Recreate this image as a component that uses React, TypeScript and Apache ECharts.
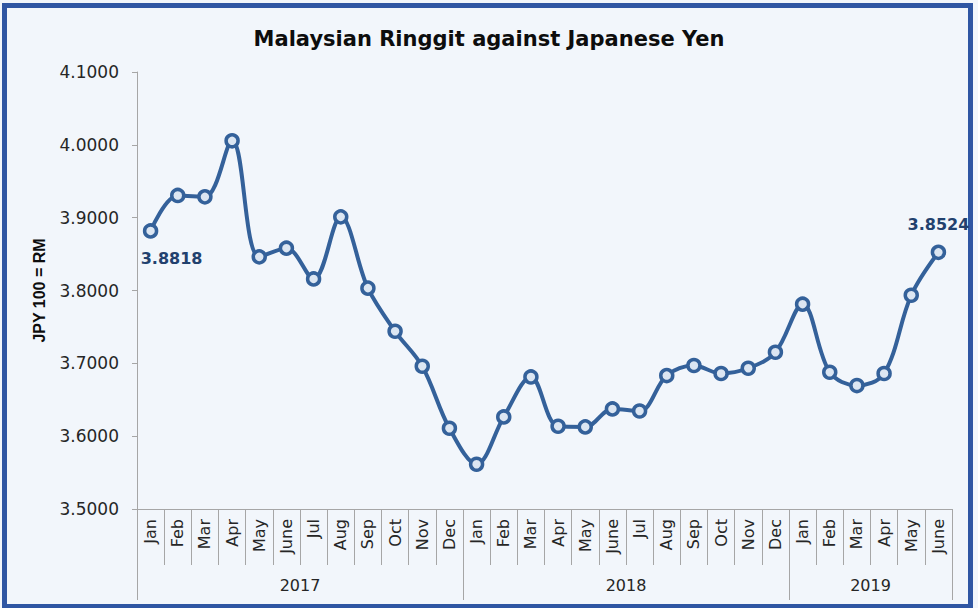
import React, { useEffect, useRef } from "react";
import * as echarts from "echarts";

const months = [
  "Jan", "Feb", "Mar", "Apr", "May", "June", "Jul", "Aug", "Sep", "Oct", "Nov", "Dec",
  "Jan", "Feb", "Mar", "Apr", "May", "June", "Jul", "Aug", "Sep", "Oct", "Nov", "Dec",
  "Jan", "Feb", "Mar", "Apr", "May", "June",
];
const rates = [
  3.8818, 3.9305, 3.9286, 4.0055, 3.8462, 3.8581, 3.8159, 3.9011, 3.8032, 3.744, 3.696, 3.6109,
  3.5614, 3.6264, 3.6813, 3.6136, 3.6127, 3.6374, 3.6346, 3.6832, 3.697, 3.686, 3.6933, 3.7152,
  3.7812, 3.6878, 3.6695, 3.686, 3.7935, 3.8524,
];
const years = ["2017", "2018", "2019"];
const yearBoundaries = [0, 12, 24, 30];
const yearCenters = [6, 18, 27];
const yTicks = { min: 3.5, max: 4.1, interval: 0.1 };

const TITLE = "Malaysian Ringgit against Japanese Yen";
const LINE = "#34619A";
const FONT = "'DejaVu Sans', sans-serif";

export default function App() {
  const ref = useRef<HTMLDivElement>(null);
  useEffect(() => {
    if (!ref.current) return;
    const chart = echarts.init(ref.current, undefined, { renderer: "svg" });
    const last = rates.length - 1;
    chart.setOption({
      animation: false,
      backgroundColor: "#F2F6FB",
      textStyle: { fontFamily: FONT },
      graphic: [
        {
          type: "rect",
          z: -10,
          shape: { x: 4.5, y: 5.5, width: 966, height: 601 },
          style: { fill: "#F2F6FB", stroke: "#2F56A3", lineWidth: 5 },
        },
      ],
      title: {
        text: TITLE,
        left: "center",
        top: 23,
        textStyle: {
          fontFamily: FONT,
          fontWeight: "bold",
          fontSize: 21,
          color: "#0d0d0d",
        },
      },
      grid: { left: 137, right: 26, top: 72, bottom: 99, containLabel: false },
      xAxis: [
        {
          type: "category",
          data: months,
          boundaryGap: true,
          axisLine: { lineStyle: { color: "#a6a6a6", width: 1 } },
          axisTick: { show: true, interval: 0, alignWithLabel: false, length: 56, lineStyle: { color: "#a6a6a6" } },
          axisLabel: { interval: 0, rotate: 90, fontSize: 16, color: "#262626", margin: 10 },
          splitLine: { show: false },
        },
        {
          type: "value",
          min: 0,
          max: 30,
          position: "bottom",
          offset: 56,
          axisLine: { show: false },
          axisTick: { show: true, customValues: yearBoundaries, length: 35, lineStyle: { color: "#a6a6a6" } },
          axisLabel: {
            customValues: yearCenters,
            fontSize: 16,
            color: "#262626",
            margin: 12,
            formatter: (v: number) => years[yearCenters.indexOf(v)] ?? "",
          },
          splitLine: { show: false },
        },
      ],
      yAxis: {
        type: "value",
        min: yTicks.min,
        max: yTicks.max,
        interval: yTicks.interval,
        name: "JPY 100 = RM",
        nameLocation: "middle",
        nameGap: 90,
        nameTextStyle: {
          fontFamily: "'Liberation Sans', Arial, sans-serif",
          fontWeight: "bold",
          fontSize: 16,
          color: "#0d0d0d",
        },
        axisLine: { show: true, lineStyle: { color: "#a6a6a6" } },
        axisTick: { show: true, length: 5, lineStyle: { color: "#a6a6a6" } },
        axisLabel: {
          fontSize: 17,
          color: "#262626",
          margin: 18,
          formatter: (v: number) => v.toFixed(4),
        },
        splitLine: { show: false },
      },
      series: [
        {
          type: "line",
          data: rates.map((v, i) => {
            if (i === 0) {
              return {
                value: v,
                label: { show: true, position: "bottom", distance: 12, offset: [21, 0] },
              };
            }
            if (i === last) {
              return { value: v, label: { show: true, position: "top", distance: 12 } };
            }
            return v;
          }),
          smooth: 0.35,
          symbol: "circle",
          symbolSize: 12,
          lineStyle: { color: LINE, width: 4 },
          itemStyle: { color: "#DCE6F2", borderColor: LINE, borderWidth: 3.5 },
          label: {
            show: false,
            formatter: (p: any) => Number(p.value).toFixed(4),
            fontFamily: FONT,
            fontWeight: "bold",
            fontSize: 16,
            color: "#22416E",
          },
        },
      ],
    });
    return () => chart.dispose();
  }, []);
  return (
    <div
      ref={ref}
      style={{ position: "fixed", left: 0, top: 0, width: 978, height: 608 }}
    />
  );
}
